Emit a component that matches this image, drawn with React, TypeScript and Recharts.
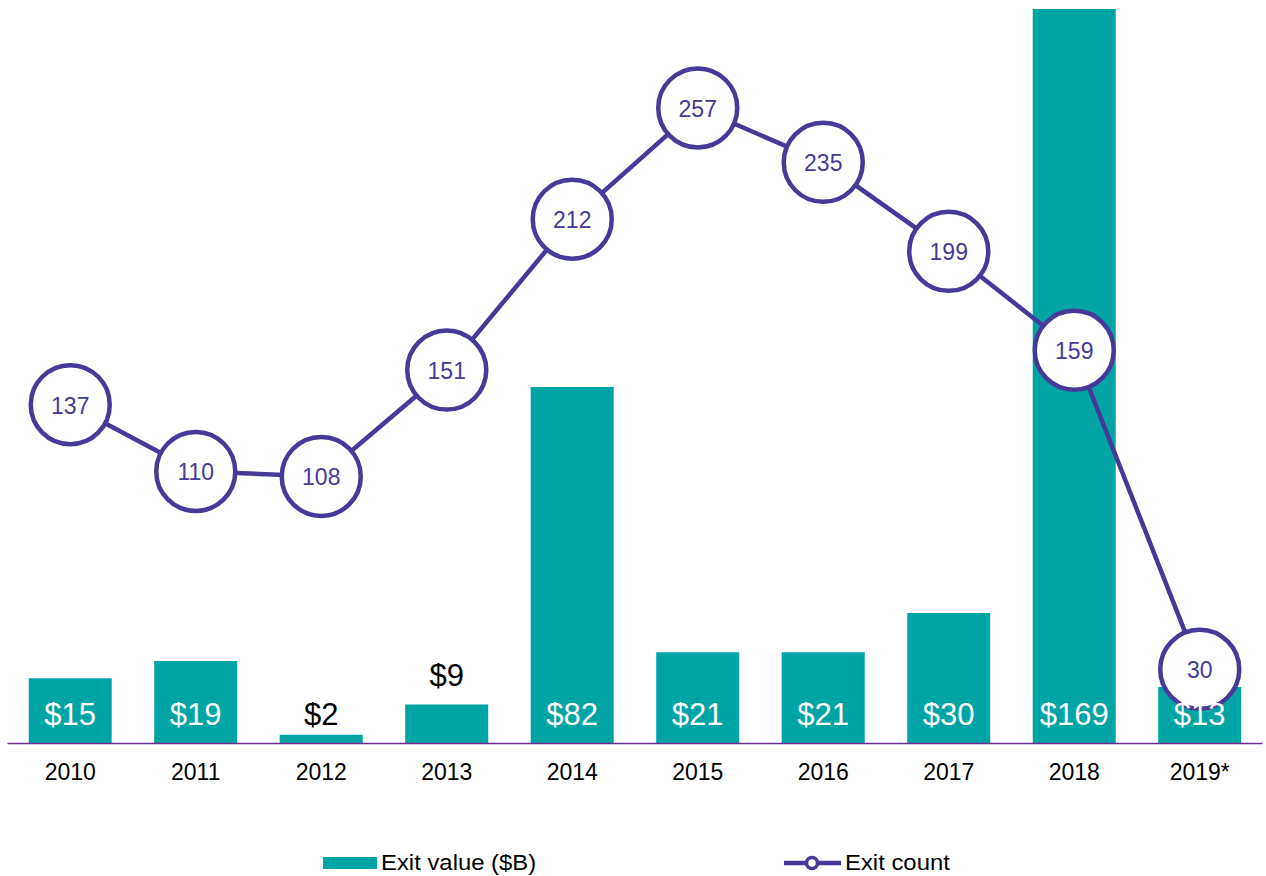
import React from "react";
import { ComposedChart, Bar, Line, XAxis, YAxis, Legend, LabelList } from "recharts";

const years = ["2010", "2011", "2012", "2013", "2014", "2015", "2016", "2017", "2018", "2019*"];
const exitValue = [15, 19, 2, 9, 82, 21, 21, 30, 169, 13];
const exitCount = [137, 110, 108, 151, 212, 257, 235, 199, 159, 30];

const data = years.map((y, i) => ({ year: y, value: exitValue[i], count: exitCount[i] }));

const TEAL = "#00A4A4";
const PURPLE = "#463A98";
const AXIS = "#6E2C90";
const FONT = "'Liberation Sans', Arial, sans-serif";

const CountDot = (props: any) => {
  const { cx, cy, payload, index } = props;
  if (cx == null || cy == null) return null;
  return (
    <g key={`dot-${index}`}>
      <circle cx={cx} cy={cy} r={39.5} fill="#fff" stroke={PURPLE} strokeWidth={4.5} />
      <text x={cx} y={cy + 9} textAnchor="middle" fill={PURPLE} fontSize={23} fontFamily={FONT}>
        {payload.count}
      </text>
    </g>
  );
};

const ValueLabel = (props: any) => {
  const { x, y, width, height, value } = props;
  const axisY = y + height;
  let fill = "#fff";
  let baseY = axisY - 19;
  if (height < 15) {
    fill = "#000";
  } else if (height < 45) {
    fill = "#000";
    baseY = y - 18;
  }
  return (
    <text x={x + width / 2} y={baseY} textAnchor="middle" fill={fill} fontSize={31} fontFamily={FONT}>
      {`$${value}`}
    </text>
  );
};

const textStyle: React.CSSProperties = {
  position: "absolute",
  top: 15,
  lineHeight: "24px",
  whiteSpace: "nowrap",
  transform: "scaleX(1.085)",
  transformOrigin: "left center",
};

const LegendContent = () => (
  <div style={{ position: "relative", width: 1266, height: 40, fontFamily: FONT, fontSize: 22, color: "#000" }}>
    <div style={{ position: "absolute", left: 315, top: 21, width: 54, height: 12, background: TEAL }} />
    <div style={{ ...textStyle, left: 373 }}>Exit value ($B)</div>
    <svg style={{ position: "absolute", left: 776, top: 17 }} width={58} height={20}>
      <line x1={0} y1={10} x2={57} y2={10} stroke={PURPLE} strokeWidth={4.5} />
      <circle cx={28} cy={10} r={5.5} fill="#fff" stroke={PURPLE} strokeWidth={3.5} />
    </svg>
    <div style={{ ...textStyle, left: 837 }}>Exit count</div>
  </div>
);

export default function App() {
  return (
    <div style={{ position: "absolute", left: 0, top: 0, width: 1266, height: 876, background: "#fff" }}>
      <ComposedChart
        width={1266}
        height={876}
        data={data}
        margin={{ top: 9, right: 3.5, left: 7.5, bottom: 0 }}
        barCategoryGap="16.9%"
      >
        <XAxis
          dataKey="year"
          axisLine={{ stroke: AXIS, strokeWidth: 1.5 }}
          tickLine={false}
          tickSize={0}
          tickMargin={20}
          height={92.5}
          interval={0}
          tick={{ fill: "#000", fontSize: 23, fontFamily: FONT }}
        />
        <YAxis yAxisId="v" hide domain={[0, 169]} />
        <YAxis yAxisId="c" hide domain={[0, 297]} orientation="right" />
        <Legend verticalAlign="bottom" height={40} content={() => <LegendContent />} />
        <Bar yAxisId="v" dataKey="value" fill={TEAL} isAnimationActive={false}>
          <LabelList dataKey="value" content={ValueLabel} />
        </Bar>
        <Line
          yAxisId="c"
          dataKey="count"
          stroke={PURPLE}
          strokeWidth={4.5}
          dot={CountDot}
          activeDot={false}
          isAnimationActive={false}
        />
      </ComposedChart>
    </div>
  );
}
